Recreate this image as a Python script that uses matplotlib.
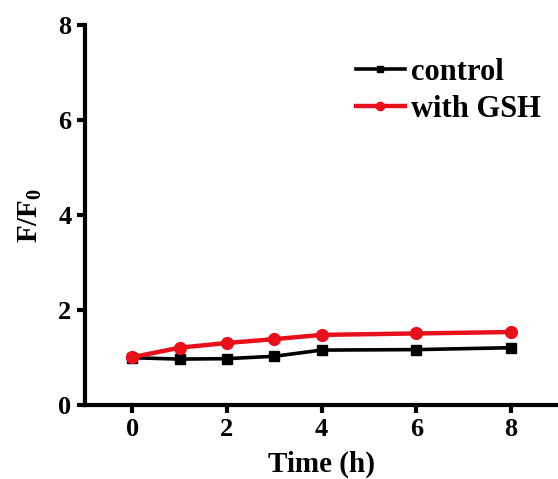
import numpy as np
import matplotlib
matplotlib.use('Agg')
import matplotlib.pyplot as plt

# data
time_h = [0, 1, 2, 3, 4, 6, 8]
control = [1.0, 0.97, 0.98, 1.03, 1.16, 1.17, 1.21]
with_gsh = [1.01, 1.21, 1.31, 1.39, 1.48, 1.51, 1.54]
x_ticks = [0, 2, 4, 6, 8]
y_ticks = [0, 2, 4, 6, 8]

plt.rcParams['font.family'] = ['Liberation Serif', 'DejaVu Serif']
plt.rcParams['font.weight'] = 'bold'
plt.rcParams['mathtext.fontset'] = 'custom'
plt.rcParams['mathtext.rm'] = 'Liberation Serif:bold'
plt.rcParams['mathtext.bf'] = 'Liberation Serif:bold'
plt.rcParams['mathtext.default'] = 'bf'

fig = plt.figure(figsize=(5.58, 4.79), dpi=100)
ax = fig.add_axes([0.152, 0.154, 0.849, 0.794])

ax.plot(time_h, control, color='black', lw=2.6, marker='s', ms=7, label='control')
ax.plot(time_h, with_gsh, color='#e8101a', lw=3.2, marker='o', ms=8.5, label='with GSH')

ax.set_xlim(-1, 9)
ax.set_ylim(0, 8)
ax.set_xticks(x_ticks)
ax.set_yticks(y_ticks)
ax.spines['top'].set_visible(False)
ax.spines['right'].set_visible(False)
for s in ('left', 'bottom'):
    ax.spines[s].set_linewidth(3)
ax.tick_params(width=3, length=6, labelsize=19, direction='out')
for lbl in ax.get_xticklabels() + ax.get_yticklabels():
    lbl.set_fontweight('bold')

ax.set_xlabel('Time (h)', fontsize=21, fontweight='bold', labelpad=7)
ax.set_ylabel('F/F$_\\mathbf{0}$', fontsize=21, fontweight='bold', labelpad=10)

leg = ax.legend(loc='upper right', bbox_to_anchor=(1.02, 0.985), frameon=False,
                prop={'size': 22, 'weight': 'bold'}, handlelength=1.6,
                handletextpad=0.2, labelspacing=0.25, markerscale=0.7)

fig.savefig('out.png', dpi=100)
